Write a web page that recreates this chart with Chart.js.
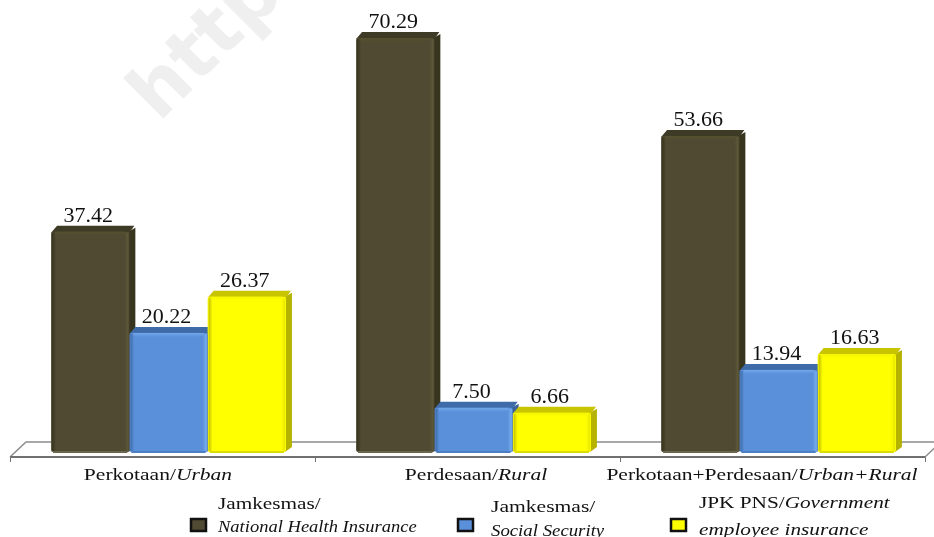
<!DOCTYPE html>
<html>
<head>
<meta charset="utf-8">
<style>
  html, body { margin: 0; padding: 0; background: #fff; overflow: hidden; }
  canvas { display: block; }
</style>
<script src="https://cdn.jsdelivr.net/npm/chart.js@4"></script>
</head>
<body>
<canvas id="chart" width="934" height="537"></canvas>
<script>
var categories = ['Perkotaan/Urban', 'Perdesaan/Rural', 'Perkotaan+Perdesaan/Urban+Rural']
var nationalHealth = [37.42, 70.29, 53.66]
var socialSecurity = [20.22, 7.50, 13.94]
var governmentEmployee = [26.37, 6.66, 16.63]
var seriesLabels = [
  ['Jamkesmas/', 'National Health Insurance'],
  ['Jamkesmas/', 'Social Security'],
  ['JPK PNS/Government', 'employee insurance'],
]
var watermark = 'http://'

var SERIF = '"Liberation Serif", serif'
var DEPTH = 6

// front, top, side, left edge, right edge, top edge, bottom edge
var palette = [
  { front: '#4f4a31', top: '#3d3a25', side: '#38351f', left: '#37341f', right: '#5f5a3a', high: '#56512f', low: '#6a6650' },
  { front: '#5a90da', top: '#3f6ca8', side: '#3a6299', left: '#3f6ca8', right: '#7ab0f0', high: '#74a8ec', low: '#4c7fc4' },
  { front: '#ffff00', top: '#c8c400', side: '#b5b200', left: '#c4c000', right: '#e8e800', high: '#f4f400', low: '#dcdc00' },
]

// where each label and legend line sits, the source image places them by hand
var categoryLabelX = [158, 476, 762]
var categoryLabelY = 480
var legendSwatchX = [190, 457, 670]
var legendTextX = [218, 491, 699]
var legendLineY = [[509, 532], [512, 536], [508, 535]]
var legendStretch = [[1.25, 1.09], [1.27, 1.105], [1.25, 1.25]]

// the picture is stretched sideways, so text is too
function stretchedText(ctx, text, x, y, font, stretch) {
  ctx.save()
  ctx.translate(x, y)
  ctx.scale(stretch, 1)
  ctx.font = font
  ctx.fillText(text, 0, 0)
  var w = ctx.measureText(text).width * stretch
  ctx.restore()
  return w
}

function mixedWidth(ctx, text, size, stretch) {
  var cut = text.indexOf('/') + 1
  ctx.save()
  ctx.font = size + 'px ' + SERIF
  var w = ctx.measureText(text.slice(0, cut)).width
  ctx.font = 'italic ' + size + 'px ' + SERIF
  w += ctx.measureText(text.slice(cut)).width
  ctx.restore()
  return w * stretch
}

// roman up to the slash, italic after it
function mixedText(ctx, text, x, y, size, stretch) {
  var cut = text.indexOf('/') + 1
  var w = 0
  if (cut > 0) w = stretchedText(ctx, text.slice(0, cut), x, y, size + 'px ' + SERIF, stretch)
  if (cut < text.length) stretchedText(ctx, text.slice(cut), x + w, y, 'italic ' + size + 'px ' + SERIF, stretch)
}

var watermarkPlugin = {
  id: 'watermark',
  beforeDraw: function (chart) {
    var ctx = chart.ctx
    ctx.save()
    ctx.translate(159, 123)
    ctx.rotate(-Math.PI / 4)
    ctx.fillStyle = '#efefef'
    ctx.font = 'bold 75px "DejaVu Sans", sans-serif'
    ctx.textBaseline = 'alphabetic'
    ctx.fillText(watermark, 0, 0)
    ctx.restore()
  },
}

var floorPlugin = {
  id: 'floor',
  beforeDatasetsDraw: function (chart) {
    var ctx = chart.ctx
    var x = chart.scales.x
    var y0 = chart.scales.y.getPixelForValue(0)
    var step = x.getPixelForValue(1) - x.getPixelForValue(0)
    var left = x.getPixelForValue(0) - step / 2 - DEPTH
    var right = left + step * categories.length
    var frontY = y0 + 5
    var backY = y0 - 10
    ctx.save()
    ctx.strokeStyle = '#8c8c8c'
    ctx.lineWidth = 1.5
    ctx.beginPath()
    ctx.moveTo(left, frontY)
    ctx.lineTo(left + 16, backY)
    ctx.lineTo(right + 16, backY)
    ctx.lineTo(right, frontY)
    ctx.stroke()
    ctx.strokeStyle = '#707070'
    ctx.lineWidth = 2
    ctx.beginPath()
    ctx.moveTo(left, frontY)
    ctx.lineTo(right, frontY)
    ctx.stroke()
    ctx.lineWidth = 1
    ctx.beginPath()
    for (var i = 0; i <= categories.length; i++) {
      var tx = Math.round(left + step * i) + 0.5
      ctx.moveTo(tx, frontY)
      ctx.lineTo(tx, frontY + 5)
    }
    ctx.stroke()

    // tops and sides go under the front faces the chart draws next
    chart.data.datasets.forEach(function (ds, d) {
      chart.getDatasetMeta(d).data.forEach(function (bar) {
        var l = bar.x - bar.width / 2
        var r = bar.x + bar.width / 2
        ctx.fillStyle = palette[d].side
        ctx.beginPath()
        ctx.moveTo(r - 1, bar.y)
        ctx.lineTo(r + DEPTH, bar.y - DEPTH + 2)
        ctx.lineTo(r + DEPTH, y0 - 5)
        ctx.lineTo(r - 1, y0)
        ctx.closePath()
        ctx.fill()
        ctx.fillStyle = palette[d].top
        ctx.beginPath()
        ctx.moveTo(l, bar.y + 1)
        ctx.lineTo(l + DEPTH, bar.y - DEPTH)
        ctx.lineTo(r + DEPTH - 1, bar.y - DEPTH)
        ctx.lineTo(r, bar.y + 1)
        ctx.closePath()
        ctx.fill()
      })
    })
    ctx.restore()
  },
  afterDatasetsDraw: function (chart) {
    var ctx = chart.ctx
    ctx.save()
    chart.data.datasets.forEach(function (ds, d) {
      var c = palette[d]
      chart.getDatasetMeta(d).data.forEach(function (bar) {
        var l = bar.x - bar.width / 2 + 1
        var r = bar.x + bar.width / 2 - 1
        var g = ctx.createLinearGradient(l, 0, l + 4, 0)
        g.addColorStop(0, c.left)
        g.addColorStop(1, c.front)
        ctx.fillStyle = g
        ctx.fillRect(l, bar.y + 1, 4, bar.base - bar.y - 2)
        g = ctx.createLinearGradient(r - 4, 0, r, 0)
        g.addColorStop(0, c.front)
        g.addColorStop(1, c.right)
        ctx.fillStyle = g
        ctx.fillRect(r - 4, bar.y + 1, 4, bar.base - bar.y - 2)
        g = ctx.createLinearGradient(0, bar.y, 0, bar.y + 4)
        g.addColorStop(0, c.high)
        g.addColorStop(1, c.front)
        ctx.fillStyle = g
        ctx.fillRect(l + 3, bar.y, r - l - 6, 4)
        ctx.fillStyle = c.low
        ctx.fillRect(l + 1, bar.base - 1, r - l - 2, 2)
      })
    })
    ctx.restore()
  },
}

var textPlugin = {
  id: 'texts',
  afterDraw: function (chart) {
    var ctx = chart.ctx
    ctx.save()
    ctx.fillStyle = '#111111'
    ctx.textBaseline = 'alphabetic'
    ctx.textAlign = 'left'

    // value labels above each bar
    chart.data.datasets.forEach(function (ds, d) {
      chart.getDatasetMeta(d).data.forEach(function (bar, i) {
        var text = ds.data[i].toFixed(2)
        ctx.font = '20px ' + SERIF
        var w = ctx.measureText(text).width * 1.1
        stretchedText(ctx, text, bar.x - w / 2 - 2, bar.y - 10, '20px ' + SERIF, 1.1)
      })
    })

    categories.forEach(function (label, i) {
      var w = mixedWidth(ctx, label, 17.5, 1.23)
      mixedText(ctx, label, categoryLabelX[i] - w / 2, categoryLabelY, 17.5, 1.23)
    })

    seriesLabels.forEach(function (lines, d) {
      var sx = legendSwatchX[d]
      ctx.fillStyle = palette[d].front
      ctx.strokeStyle = '#111111'
      ctx.lineWidth = 2.5
      ctx.fillRect(sx + 1, 519, 15, 12)
      ctx.strokeRect(sx + 1, 519, 15, 12)
      ctx.fillStyle = '#111111'
      lines.forEach(function (line, n) {
        mixedText(ctx, line, legendTextX[d], legendLineY[d][n], 17, legendStretch[d][n])
      })
    })
    ctx.restore()
  },
}

new Chart(document.getElementById('chart').getContext('2d'), {
  type: 'bar',
  data: {
    labels: categories,
    datasets: [
      { label: seriesLabels[0].join(' '), data: nationalHealth, backgroundColor: palette[0].front },
      { label: seriesLabels[1].join(' '), data: socialSecurity, backgroundColor: palette[1].front },
      { label: seriesLabels[2].join(' '), data: governmentEmployee, backgroundColor: palette[2].front },
    ],
  },
  options: {
    responsive: false,
    animation: false,
    categoryPercentage: 0.77,
    barPercentage: 1,
    borderRadius: 2,
    borderSkipped: false,
    layout: { padding: { left: 16, right: 3, top: 28, bottom: 85 } },
    plugins: {
      legend: { display: false },
      tooltip: { enabled: false },
    },
    scales: {
      x: { display: false },
      y: { display: false, min: 0, max: 72 },
    },
  },
  plugins: [watermarkPlugin, floorPlugin, textPlugin],
})
</script>
</body>
</html>
